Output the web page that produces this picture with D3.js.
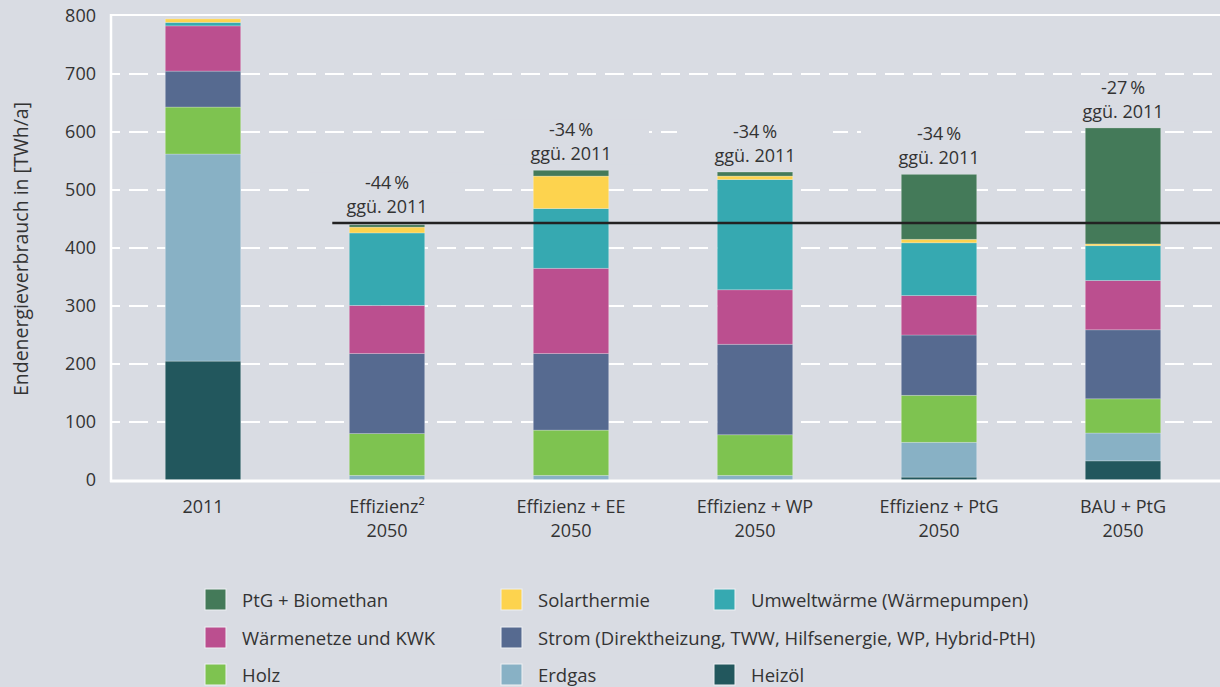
<!DOCTYPE html>
<html>
<head>
<meta charset="utf-8">
<script src="https://cdn.jsdelivr.net/npm/d3@7"></script>
<style>
  body { margin: 0; background: #d9dce3; }
  text { font-family: "Open Sans", sans-serif; fill: #333; }
</style>
</head>
<body>
<div id="chart"></div>
<script>
const categories = ["2011", "Effizienz2", "EffizienzEE", "EffizienzWP", "EffizienzPtG", "BAUPtG"];
const categoryLines = [
  ["2011"],
  ["Effizienz²", "2050"],
  ["Effizienz + EE", "2050"],
  ["Effizienz + WP", "2050"],
  ["Effizienz + PtG", "2050"],
  ["BAU + PtG", "2050"]
];
// stack order, bottom to top
const seriesNames = ["Heizöl", "Erdgas", "Holz", "Strom (Direktheizung, TWW, Hilfsenergie, WP, Hybrid-PtH)",
  "Wärmenetze und KWK", "Umweltwärme (Wärmepumpen)", "Solarthermie", "PtG + Biomethan"];
const heizoel = [205, 0, 0, 0, 5, 33];
const erdgas = [357, 8, 8, 8, 60, 48];
const holz = [81, 72, 78, 70, 81, 59];
const strom = [62, 138, 132, 156, 104, 119];
const waermenetze = [78, 83, 147, 94, 68, 85];
const umweltwaerme = [6, 125, 103, 190, 91, 60];
const solarthermie = [6, 10, 56, 6, 6, 3];
const ptgBiomethan = [0, 4, 10, 7, 112, 200];
const changeLabels = ["", "-44\u2009%", "-34\u2009%", "-34\u2009%", "-34\u2009%", "-27\u2009%"];
const refValue = 443;
const yTicks = [0, 100, 200, 300, 400, 500, 600, 700, 800];

const colors = ["#22575d", "#88b1c5", "#7ec350", "#566a90", "#bb4f8f", "#36a9b1", "#fdd34e", "#447a59"];
// legend grid: [row, col] for each series
const legendPos = [[2, 2], [2, 1], [2, 0], [1, 1], [1, 0], [0, 2], [0, 1], [0, 0]];

const width = 1220, height = 687;
const bg = "#d9dce3";

const seriesValues = [heizoel, erdgas, holz, strom, waermenetze, umweltwaerme, solarthermie, ptgBiomethan];
const table = categories.map(function (c, i) {
  const row = { cat: c };
  seriesNames.forEach(function (s, k) { row[s] = seriesValues[k][i]; });
  return row;
});

const svg = d3.select("#chart").append("svg")
  .attr("width", width)
  .attr("height", height);

svg.append("rect").attr("width", width).attr("height", height).attr("fill", bg);

const x = d3.scaleBand()
  .domain(categories)
  .range([111, 1215])
  .paddingInner(0.59)
  .paddingOuter(0.295);

const y = d3.scaleLinear()
  .domain([0, 800])
  .range([480, 16]);

// dashed grid
svg.append("g").selectAll("line")
  .data(yTicks.filter(function (t) { return t > 0 && t < 800; }))
  .enter().append("line")
  .attr("x1", 111).attr("x2", width)
  .attr("y1", function (d) { return y(d); })
  .attr("y2", function (d) { return y(d); })
  .attr("stroke", "white")
  .style("stroke-width", "2px")
  .style("stroke-dasharray", "19,9")
  .style("stroke-dashoffset", "10");

// boxes behind the change labels hide the grid
const totals = table.map(function (r) { return d3.sum(seriesNames, function (s) { return r[s]; }); });
function labelTop(i) { return y(Math.max(totals[i], refValue)); }

svg.append("g").selectAll("rect")
  .data(categories.filter(function (c, i) { return changeLabels[i] !== ""; }))
  .enter().append("rect")
  .attr("x", function (d) { return x(d) + x.bandwidth() / 2 - 78; })
  .attr("y", function (d) { return labelTop(categories.indexOf(d)) - 51; })
  .attr("width", 156)
  .attr("height", 45)
  .attr("fill", bg);

// stacked bars
const stack = d3.stack().keys(seriesNames);
const layers = stack(table);

svg.append("g").selectAll("g")
  .data(layers)
  .enter().append("g")
  .attr("fill", function (d, i) { return colors[i]; })
  .selectAll("rect")
  .data(function (d) { return d.filter(function (p) { return p[1] - p[0] > 0; }); })
  .enter().append("rect")
  .attr("x", function (d) { return x(d.data.cat); })
  .attr("y", function (d) { return y(d[1]); })
  .attr("width", x.bandwidth())
  .attr("height", function (d) { return y(d[0]) - y(d[1]); })
  .attr("stroke", "rgba(255,255,255,0.3)")
  .style("stroke-width", "0.8px");

// frame
svg.append("line").attr("x1", 111).attr("x2", width).attr("y1", 15).attr("y2", 15)
  .attr("stroke", "white").style("stroke-width", "2px");
svg.append("line").attr("x1", 111).attr("x2", 111).attr("y1", 14).attr("y2", 482)
  .attr("stroke", "white").style("stroke-width", "2.5px");
svg.append("line").attr("x1", 110).attr("x2", width).attr("y1", 481).attr("y2", 481)
  .attr("stroke", "white").style("stroke-width", "3px");

// reference line at -44 % level
svg.append("line")
  .attr("x1", x(categories[1]) - 17).attr("x2", width)
  .attr("y1", y(refValue)).attr("y2", y(refValue))
  .attr("stroke", "#222")
  .style("stroke-width", "2.5px");

// y axis labels
const yAxis = svg.append("g")
  .attr("transform", "translate(96,0)")
  .call(d3.axisLeft(y).tickValues(yTicks).tickSize(0).tickPadding(0));
yAxis.select(".domain").remove();
yAxis.selectAll("text")
  .style("font-family", "'Open Sans', sans-serif")
  .style("font-size", "18px")
  .attr("fill", "#333");

svg.append("text")
  .attr("transform", "translate(20,249) rotate(-90)")
  .attr("text-anchor", "middle")
  .attr("dominant-baseline", "central")
  .style("font-size", "19.5px")
  .text("Endenergieverbrauch in [TWh/a]");

// category labels
const catLabels = svg.append("g").selectAll("text")
  .data(categories)
  .enter().append("text")
  .attr("x", function (d) { return x(d) + x.bandwidth() / 2; })
  .attr("y", 507)
  .attr("text-anchor", "middle")
  .style("font-size", "18px");
catLabels.each(function (d, i) {
  const t = d3.select(this);
  categoryLines[i].forEach(function (line, k) {
    t.append("tspan")
      .attr("x", x(d) + x.bandwidth() / 2)
      .attr("dy", k === 0 ? "0.35em" : "24px")
      .text(line);
  });
});

// change labels
categories.forEach(function (c, i) {
  if (changeLabels[i] === "") return;
  const cx = x(c) + x.bandwidth() / 2;
  const top = labelTop(i);
  svg.append("text")
    .attr("x", cx).attr("y", top - 41)
    .attr("text-anchor", "middle")
    .attr("dominant-baseline", "central")
    .style("font-size", "18px")
    .text(changeLabels[i]);
  svg.append("text")
    .attr("x", cx).attr("y", top - 17)
    .attr("text-anchor", "middle")
    .attr("dominant-baseline", "central")
    .style("font-size", "18px")
    .text("ggü. 2011");
});

// legend
const legendX = [205, 501, 714];
const legendY = [589, 627, 664];
const legend = svg.append("g").selectAll("g")
  .data(seriesNames)
  .enter().append("g")
  .attr("transform", function (d, i) {
    return "translate(" + legendX[legendPos[i][1]] + "," + legendY[legendPos[i][0]] + ")";
  });
legend.append("rect")
  .attr("width", 21).attr("height", 21)
  .attr("fill", function (d, i) { return colors[i]; })
  .attr("stroke", "#eef0f3")
  .style("stroke-width", "1px");
legend.append("text")
  .attr("x", 37).attr("y", 10.5)
  .attr("dominant-baseline", "central")
  .style("font-size", "18.5px")
  .text(function (d) { return d; });
</script>
</body>
</html>
